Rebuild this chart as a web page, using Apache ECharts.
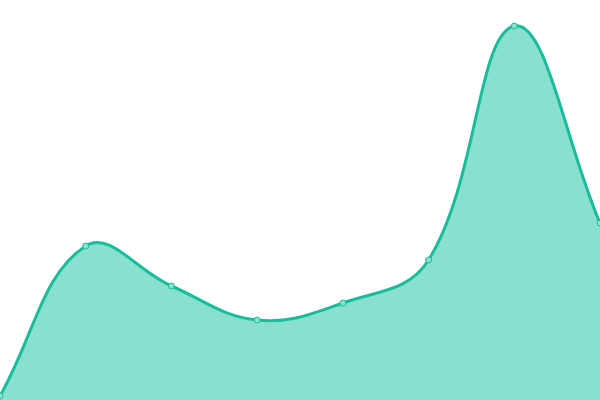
<!DOCTYPE html>
<html>
<head>
<meta charset="utf-8">
<script src="https://cdn.jsdelivr.net/npm/echarts@6/dist/echarts.min.js"></script>
<style>html,body{margin:0;padding:0;background:#fff}#c{width:600px;height:400px}</style>
</head>
<body>
<div id="c"></div>
<script>
var categories = ['1', '2', '3', '4', '5', '6', '7', '8'];
var values = [4, 154, 114, 80, 97, 140, 374, 177];

var LINE = '#1abc9c', FILL = '#8ae0cf', TENSION = 0.4;

function controlPoints(pts) {
  var out = [];
  for (var i = 0; i < pts.length; i++) {
    var cur = pts[i];
    var prev = i > 0 ? pts[i - 1] : cur;
    var next = i < pts.length - 1 ? pts[i + 1] : cur;
    var d01 = Math.hypot(cur[0] - prev[0], cur[1] - prev[1]);
    var d12 = Math.hypot(next[0] - cur[0], next[1] - cur[1]);
    var s01 = d01 / (d01 + d12), s12 = d12 / (d01 + d12);
    if (isNaN(s01)) s01 = 0;
    if (isNaN(s12)) s12 = 0;
    var fa = TENSION * s01, fb = TENSION * s12;
    out.push({
      p: [cur[0] - fa * (next[0] - prev[0]), cur[1] - fa * (next[1] - prev[1])],
      n: [cur[0] + fb * (next[0] - prev[0]), cur[1] + fb * (next[1] - prev[1])]
    });
  }
  return out;
}

var chart = echarts.init(document.getElementById('c'));
chart.setOption({
  animation: false,
  grid: {left: 0, right: 0, top: 0, bottom: 0},
  xAxis: {type: 'category', data: categories, boundaryGap: false, show: false},
  yAxis: {type: 'value', min: 0, max: 400, show: false},
  series: [{
    type: 'custom',
    data: values.map(function (v, i) { return [i, v]; }),
    encode: {x: 0, y: 1},
    clip: false,
    renderItem: function (params, api) {
      var idx = params.dataIndex;
      var children = [];
      if (idx === 0) {
        var pts = values.map(function (v, i) { return api.coord([i, v]); });
        var cps = controlPoints(pts);
        var d = 'M' + pts[0][0] + ' ' + pts[0][1];
        for (var i = 1; i < pts.length; i++) {
          var a = cps[i - 1].n, b = cps[i].p;
          d += ' C' + a[0] + ' ' + a[1] + ' ' + b[0] + ' ' + b[1] + ' ' + pts[i][0] + ' ' + pts[i][1];
        }
        var base = api.coord([0, 0])[1];
        var area = d + ' L' + pts[pts.length - 1][0] + ' ' + base + ' L' + pts[0][0] + ' ' + base + ' Z';
        children.push({type: 'path', shape: {pathData: area}, style: {fill: FILL, stroke: null}});
        children.push({type: 'path', shape: {pathData: d}, style: {fill: null, stroke: LINE, lineWidth: 3}});
      }
      var c = api.coord([idx, values[idx]]);
      children.push({type: 'circle', shape: {cx: c[0], cy: c[1], r: 3}, style: {fill: FILL, stroke: LINE, lineWidth: 1}});
      return {type: 'group', children: children};
    }
  }]
});
</script>
</body>
</html>
